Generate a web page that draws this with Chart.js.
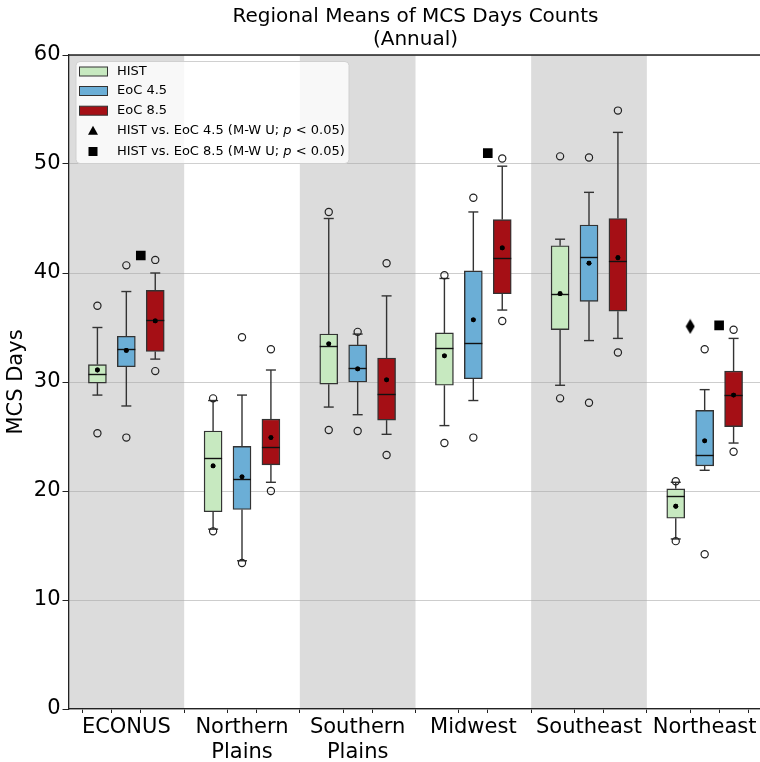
<!DOCTYPE html>
<html>
<head>
<meta charset="utf-8">
<script src="https://cdn.jsdelivr.net/npm/chart.js@4.4.1/dist/chart.umd.min.js"></script>
<style>
  html, body { margin: 0; background: #fff; overflow: hidden; }
  #wrap { width: 760px; height: 762px; overflow: hidden; }
  canvas { display: block; }
</style>
</head>
<body>
<div id="wrap"><canvas id="chart" width="764" height="762"></canvas></div>
<script>
// ── data ─────────────────────────────────────────────────────────────────────
const regions   = ['ECONUS', ['Northern', 'Plains'], ['Southern', 'Plains'], 'Midwest', 'Southeast', 'Northeast'];
const scenarios = ['HIST', 'EoC 4.5', 'EoC 8.5'];
const yTicks    = [0, 10, 20, 30, 40, 50, 60];

// HIST
const histLow   = [28.8, 16.5, 27.7, 26.0, 29.7, 15.6];
const histQ1    = [29.9, 18.1, 29.8, 29.7, 34.8, 17.5];
const histMed   = [30.7, 23.0, 33.3, 33.1, 38.1, 19.5];
const histQ3    = [31.6, 25.5, 34.4, 34.5, 42.5, 20.2];
const histHigh  = [35.0, 28.3, 45.0, 39.5, 43.1, 20.8];
const histMean  = [31.1, 22.3, 33.5, 32.4, 38.1, 18.6];
const histOutLo = [25.3, 16.3, 25.6, 24.4, 28.5, 15.4];
const histOutHi = [37.0, 28.5, 45.6, 39.8, 50.7, 20.9];

// EoC 4.5
const e45Low    = [27.8, 13.6, 27.0, 28.3, 33.8, 21.9];
const e45Q1     = [31.4, 18.3, 30.0, 30.3, 37.4, 22.3];
const e45Med    = [33.0, 21.1, 31.3, 33.6, 41.5, 23.3];
const e45Q3     = [34.2, 24.1, 33.4, 40.2, 44.4, 27.4];
const e45High   = [38.3, 28.8, 34.4, 45.6, 47.4, 29.3];
const e45Mean   = [32.9, 21.3, 31.2, 35.7, 40.9, 24.6];
const e45OutLo  = [24.9, 13.4, 25.5, 24.9, 28.1, 14.2];
const e45OutHi  = [40.7, 34.1, 34.6, 46.9, 50.6, 33.0];

// EoC 8.5
const e85Low    = [32.1, 20.8, 25.2, 36.6, 34.0, 24.4];
const e85Q1     = [32.8, 22.4, 26.5, 38.1, 36.5, 25.9];
const e85Med    = [35.7, 24.0, 28.9, 41.4, 41.1, 28.8];
const e85Q3     = [38.4, 26.6, 32.2, 44.9, 45.0, 31.0];
const e85High   = [40.0, 31.1, 37.9, 49.8, 52.9, 34.0];
const e85Mean   = [35.6, 24.9, 30.2, 42.3, 41.4, 28.8];
const e85OutLo  = [31.0, 20.0, 23.3, 35.6, 32.7, 23.6];
const e85OutHi  = [41.2, 33.0, 40.9, 50.5, 54.9, 34.8];

// significance markers (M-W U; p < 0.05)
const sig45 = [null, null, null, null, null, 35.1];
const sig85 = [41.6, null, null, 51.0, null, 35.2];

// ── styling ──────────────────────────────────────────────────────────────────
const colors  = ['#c7e9c0', '#6baed6', '#a50f15'];
const offsets = [-0.25, 0, 0.25];
const EDGE = '#333';
const FONT = "'DejaVu Sans', sans-serif";
Chart.defaults.font.family = FONT;
Chart.defaults.color = '#000';

const stats = [
  { low: histLow, q1: histQ1, med: histMed, q3: histQ3, high: histHigh, mean: histMean, outLo: histOutLo, outHi: histOutHi },
  { low: e45Low,  q1: e45Q1,  med: e45Med,  q3: e45Q3,  high: e45High,  mean: e45Mean,  outLo: e45OutLo,  outHi: e45OutHi },
  { low: e85Low,  q1: e85Q1,  med: e85Med,  q3: e85Q3,  high: e85High,  mean: e85Mean,  outLo: e85OutLo,  outHi: e85OutHi }
];

// thin diamond marker (matplotlib 'd')
function thinDiamond() {
  const c = document.createElement('canvas');
  c.width = 10; c.height = 16;
  const g = c.getContext('2d');
  g.fillStyle = '#000';
  g.beginPath();
  g.moveTo(5, 0.5); g.lineTo(9.5, 8); g.lineTo(5, 15.5); g.lineTo(0.5, 8);
  g.closePath(); g.fill();
  return c;
}

const pts = (vals, off) => vals.map((v, i) => v == null ? null : { x: i + off, y: v }).filter(Boolean);

const datasets = [];
stats.forEach((s, k) => {
  datasets.push({
    type: 'bar',
    label: scenarios[k],
    data: s.q1.map((q, i) => ({ x: i + offsets[k], y: [q, s.q3[i]] })),
    backgroundColor: colors[k],
    borderColor: EDGE,
    borderWidth: 1.4,
    borderSkipped: false,
    barThickness: 18,
    grouped: false,
    order: 3
  });
});
stats.forEach((s, k) => {
  datasets.push({
    type: 'scatter',
    data: pts(s.outLo, offsets[k]).concat(pts(s.outHi, offsets[k])),
    pointStyle: 'circle',
    pointRadius: 3.6,
    borderColor: '#222',
    borderWidth: 1.2,
    backgroundColor: 'rgba(0,0,0,0)',
    order: 2
  });
  datasets.push({
    type: 'scatter',
    data: pts(s.mean, offsets[k]),
    pointRadius: 2.4,
    backgroundColor: '#000',
    borderWidth: 0,
    order: 1
  });
});
datasets.push({
  type: 'scatter',
  data: pts(sig85, 0.125),
  pointStyle: 'rect',
  pointRadius: 6.8,
  backgroundColor: '#000',
  borderWidth: 0,
  order: 1
});
datasets.push({
  type: 'scatter',
  data: pts(sig45, -0.125),
  pointStyle: thinDiamond(),
  backgroundColor: '#000',
  order: 1
});

// ── plugins ──────────────────────────────────────────────────────────────────
const bands = {
  id: 'bands',
  beforeDraw(chart) {
    const { ctx, chartArea: a, scales: { x } } = chart;
    ctx.save();
    ctx.fillStyle = '#dcdcdc';
    regions.forEach((r, i) => {
      if (i % 2) return;
      const l = x.getPixelForValue(i - 0.5), rr = x.getPixelForValue(i + 0.5);
      ctx.fillRect(l, a.top, rr - l, a.bottom - a.top);
    });
    ctx.restore();
  }
};

const whiskers = {
  id: 'whiskers',
  beforeDatasetsDraw(chart) {
    const { ctx, scales: { x, y }, chartArea: a } = chart;
    ctx.save();
    // top spine
    ctx.strokeStyle = '#222'; ctx.lineWidth = 1.3;
    ctx.beginPath(); ctx.moveTo(a.left, a.top); ctx.lineTo(a.right, a.top); ctx.stroke();
    ctx.strokeStyle = EDGE; ctx.lineWidth = 1.4;
    stats.forEach((s, k) => {
      s.q1.forEach((q, i) => {
        const px = x.getPixelForValue(i + offsets[k]);
        const seg = (v0, v1) => {
          ctx.beginPath();
          ctx.moveTo(px, y.getPixelForValue(v0));
          ctx.lineTo(px, y.getPixelForValue(v1));
          ctx.stroke();
          ctx.beginPath();
          ctx.moveTo(px - 5, y.getPixelForValue(v1));
          ctx.lineTo(px + 5, y.getPixelForValue(v1));
          ctx.stroke();
        };
        seg(q, s.low[i]);
        seg(s.q3[i], s.high[i]);
      });
    });
    ctx.restore();
  },
  afterDatasetsDraw(chart) {
    const { ctx, scales: { x, y } } = chart;
    ctx.save();
    ctx.strokeStyle = '#111'; ctx.lineWidth = 1.4;
    stats.forEach((s, k) => {
      s.med.forEach((m, i) => {
        const px = x.getPixelForValue(i + offsets[k]);
        const py = Math.round(y.getPixelForValue(m)) + 0.5;
        ctx.beginPath(); ctx.moveTo(px - 9, py); ctx.lineTo(px + 9, py); ctx.stroke();
      });
    });
    // means on top of medians
    ctx.fillStyle = '#000';
    stats.forEach((s, k) => {
      s.mean.forEach((m, i) => {
        ctx.beginPath();
        ctx.arc(x.getPixelForValue(i + offsets[k]), y.getPixelForValue(m), 2.4, 0, Math.PI * 2);
        ctx.fill();
      });
    });
    ctx.restore();
  }
};

const titleAndLegend = {
  id: 'titleAndLegend',
  afterDraw(chart) {
    const { ctx, chartArea: a } = chart;
    ctx.save();
    // title
    ctx.fillStyle = '#000';
    ctx.font = `20px ${FONT}`;
    ctx.textAlign = 'center';
    ctx.textBaseline = 'alphabetic';
    const cx = (a.left + a.right) / 2;
    ctx.fillText('Regional Means of MCS Days Counts', cx, 22);
    ctx.fillText('(Annual)', cx, 45);

    // legend box
    const lx = a.left + 7.5, ly = a.top + 6.5, lw = 273, lh = 102;
    ctx.beginPath();
    ctx.roundRect(lx, ly, lw, lh, 4);
    ctx.fillStyle = 'rgba(255,255,255,0.8)';
    ctx.fill();
    ctx.strokeStyle = '#d0d0d0'; ctx.lineWidth = 1;
    ctx.stroke();

    const rowY = [71.5, 91, 110.7, 130.7, 151.5];
    const mx = 93, tx = 117;
    ctx.textAlign = 'left';
    ctx.textBaseline = 'middle';
    ctx.font = `13px ${FONT}`;
    scenarios.forEach((name, k) => {
      ctx.fillStyle = colors[k];
      ctx.fillRect(79.5, rowY[k] - 4.5, 28, 9);
      ctx.strokeStyle = EDGE; ctx.lineWidth = 1;
      ctx.strokeRect(79.5, rowY[k] - 4.5, 28, 9);
      ctx.fillStyle = '#000';
      ctx.fillText(name, tx, rowY[k]);
    });
    // triangle
    ctx.fillStyle = '#000';
    ctx.beginPath();
    ctx.moveTo(mx, rowY[3] - 5); ctx.lineTo(mx + 5, rowY[3] + 4); ctx.lineTo(mx - 5, rowY[3] + 4);
    ctx.closePath(); ctx.fill();
    // square
    ctx.fillRect(mx - 4.5, rowY[4] - 4.5, 9, 9);

    const sigText = (label, yy) => {
      let xx = tx;
      const parts = [[`HIST vs. ${label} (M-W U; `, ''], ['p', 'italic '], [' < 0.05)', '']];
      parts.forEach(([t, st]) => {
        ctx.font = `${st}13px ${FONT}`;
        ctx.fillText(t, xx, yy);
        xx += ctx.measureText(t).width;
      });
    };
    sigText('EoC 4.5', rowY[3]);
    sigText('EoC 8.5', rowY[4]);
    ctx.restore();
  }
};

// ── chart ────────────────────────────────────────────────────────────────────
const tickPositions = [];
regions.forEach((r, i) => offsets.forEach(o => tickPositions.push(i + o)));

new Chart(document.getElementById('chart').getContext('2d'), {
  type: 'bar',
  data: { datasets },
  options: {
    responsive: false,
    animation: false,
    layout: { autoPadding: false, padding: { top: 55, right: 1.5, left: 0, bottom: 0 } },
    plugins: { legend: { display: false }, tooltip: { enabled: false } },
    scales: {
      x: {
        type: 'linear',
        min: -0.5,
        max: regions.length - 0.5,
        offset: false,
        afterBuildTicks: s => { s.ticks = tickPositions.map(v => ({ value: v })); },
        afterFit: s => { s.height = 53; s.paddingLeft = 0; s.paddingRight = 0; },
        ticks: {
          autoSkip: false,
          maxRotation: 0,
          padding: 2,
          font: { size: 21 },
          color: '#000',
          callback: v => Number.isInteger(v) ? regions[v] : ''
        },
        grid: { drawOnChartArea: false, drawTicks: true, tickLength: 4, tickColor: '#222' },
        border: { color: '#222', width: 1.3 }
      },
      y: {
        min: 0,
        max: 60,
        afterBuildTicks: s => { s.ticks = yTicks.map(v => ({ value: v })); },
        afterFit: s => { s.width = 68.5; },
        ticks: { padding: 2, font: { size: 21 }, color: '#000' },
        grid: { color: 'rgba(167,167,167,0.57)', lineWidth: 1, tickLength: 6, tickColor: '#222' },
        border: { color: '#222', width: 1.3 },
        title: { display: true, text: 'MCS Days', font: { size: 21 }, color: '#000', padding: { top: 4, bottom: 0 } }
      }
    }
  },
  plugins: [bands, whiskers, titleAndLegend]
});
</script>
</body>
</html>
